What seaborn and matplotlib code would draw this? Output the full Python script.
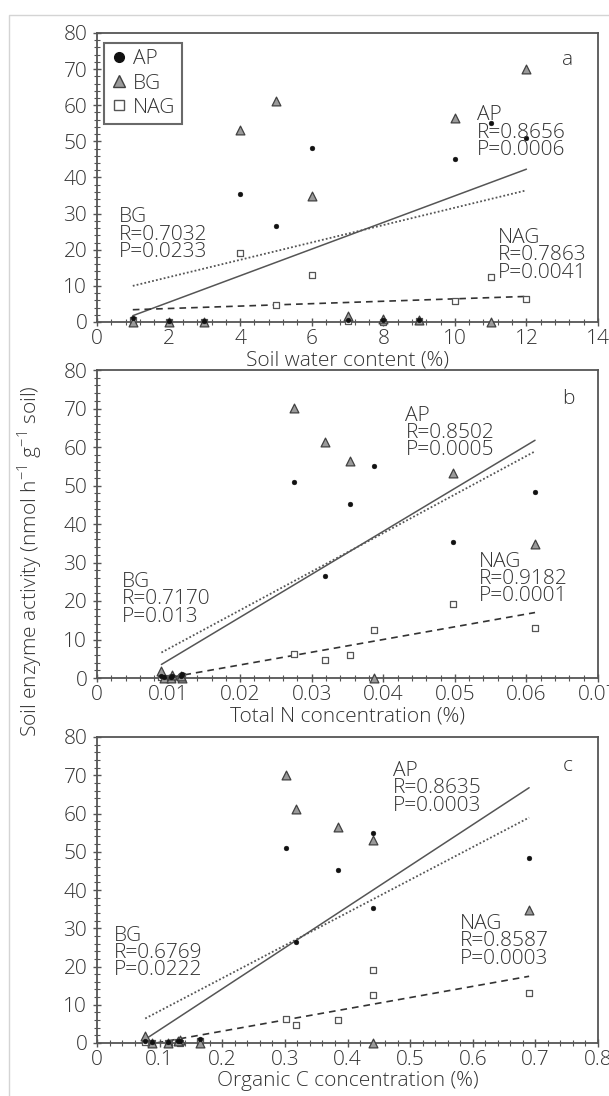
import numpy as np
import pandas as pd
import matplotlib
matplotlib.use("Agg")
import matplotlib.pyplot as plt
import seaborn as sns
from matplotlib.ticker import MultipleLocator, AutoMinorLocator, FuncFormatter
from matplotlib.lines import Line2D
from matplotlib.patches import Rectangle

# ---- data (12 soil samples) ----
ap = [1.0, 0.3, 0.3, 35.4, 26.5, 48.3, 0.5, 0.5, 0.5, 45.1, 55.0, 50.9]
bg = [0.0, 0.0, 0.0, 53.2, 61.2, 34.9, 1.7, 0.7, 0.5, 56.4, 0.0, 70.1]
nag = [0.5, 0.1, 0.1, 19.1, 4.6, 13.1, 0.3, 0.1, 0.3, 5.9, 12.5, 6.3]

swc = [1, 2, 3, 4, 5, 6, 7, 8, 9, 10, 11, 12]
total_n = [0.0119, 0.0093, 0.0103, 0.0498, 0.0318, 0.0612, 0.0090, 0.0105, 0.0118, 0.0353, 0.0387, 0.0275]
org_c = [0.165, 0.088, 0.114, 0.440, 0.317, 0.690, 0.077, 0.132, 0.130, 0.385, 0.440, 0.301]

panel_letters = ["a", "b", "c"]
xlabels = ["Soil water content (%)", "Total N concentration (%)", "Organic C concentration (%)"]
xlims = [(0, 14), (0, 0.07), (0, 0.8)]
xmajor = [2, 0.01, 0.1]
stats = [
    {"AP": ("0.8656", "0.0006"), "BG": ("0.7032", "0.0233"), "NAG": ("0.7863", "0.0041")},
    {"AP": ("0.8502", "0.0005"), "BG": ("0.7170", "0.013"), "NAG": ("0.9182", "0.0001")},
    {"AP": ("0.8635", "0.0003"), "BG": ("0.6769", "0.0222"), "NAG": ("0.8587", "0.0003")},
]
# text anchor positions (data coords, top-left)
text_pos = [
    {"AP": (10.62, 60.0), "BG": (0.6, 31.7), "NAG": (11.2, 26.0)},
    {"AP": (0.0431, 70.7), "BG": (0.0035, 27.5), "NAG": (0.0534, 32.8)},
    {"AP": (0.473, 73.7), "BG": (0.027, 30.7), "NAG": (0.58, 33.7)},
]

sns.set_theme(style="white")
plt.rcParams["font.family"] = ["Open Sans", "DejaVu Sans"]
plt.rcParams["font.weight"] = "light"
plt.rcParams["axes.labelweight"] = "light"
plt.rcParams["mathtext.fontset"] = "custom"
plt.rcParams["mathtext.rm"] = "Open Sans:light"

FS = 15
TXT = "#333333"
SP = "#555555"

fig = plt.figure(figsize=(6.09, 10.96), dpi=100)
W, H = 609, 1096
boxes = [(33, 322), (370, 678), (737, 1043)]
axes = []
for top, bot in boxes:
    axes.append(fig.add_axes([97 / W, 1 - bot / H, 501 / W, (bot - top) / H]))

# light outer frame
fig.patches.append(Rectangle((9 / W, -0.01), 1.2, 1 - 15 / H + 0.01, transform=fig.transFigure,
                             fill=False, edgecolor="#d4d4d4", linewidth=1.0))

xs_all = [swc, total_n, org_c]
for i, ax in enumerate(axes):
    xs = xs_all[i]
    df = pd.DataFrame({"x": xs, "AP": ap, "BG": bg, "NAG": nag})
    # regression lines
    sns.regplot(data=df, x="x", y="AP", ax=ax, scatter=False, ci=None, truncate=True,
                line_kws=dict(color="#555555", lw=1.1, ls="-"))
    sns.regplot(data=df, x="x", y="BG", ax=ax, scatter=False, ci=None, truncate=True,
                line_kws=dict(color="#555555", lw=1.3, ls=(0, (1, 1.2))))
    sns.regplot(data=df, x="x", y="NAG", ax=ax, scatter=False, ci=None, truncate=True,
                line_kws=dict(color="#333333", lw=1.2, ls=(0, (4, 3))))
    # points
    sns.scatterplot(data=df, x="x", y="NAG", ax=ax, marker="s", s=18, facecolor="white",
                    edgecolor="#555555", linewidth=0.9, zorder=3, clip_on=False)
    sns.scatterplot(data=df, x="x", y="BG", ax=ax, marker="^", s=40, color="#9a9a9a",
                    edgecolor="#404040", linewidth=0.9, zorder=4, clip_on=False)
    sns.scatterplot(data=df, x="x", y="AP", ax=ax, marker="o", s=12, color="#111111",
                    edgecolor="#111111", linewidth=0.3, zorder=5, clip_on=False)

    ax.set_xlim(*xlims[i])
    ax.set_ylim(0, 80)
    ax.xaxis.set_major_locator(MultipleLocator(xmajor[i]))
    ax.xaxis.set_minor_locator(AutoMinorLocator(5))
    ax.yaxis.set_major_locator(MultipleLocator(10))
    ax.yaxis.set_minor_locator(AutoMinorLocator(5))
    ax.xaxis.set_major_formatter(FuncFormatter(lambda v, p: "%g" % round(v, 4)))
    ax.tick_params(which="major", direction="inout", length=6, width=1, color=SP,
                   labelsize=FS, labelcolor=TXT, pad=2)
    ax.tick_params(which="minor", direction="inout", length=4, width=0.8, color=SP)
    ax.tick_params(axis="x", which="both", top=False, bottom=True)
    ax.tick_params(axis="y", which="both", right=False, left=True)
    ax.tick_params(axis="y", which="major", pad=4)
    for s in ax.spines.values():
        s.set_color(SP)
        s.set_linewidth(1.3)
    ax.set_xlabel(xlabels[i], fontsize=FS, color=TXT, labelpad=1)
    ax.set_ylabel("")
    ax.text(0.94, 0.905, panel_letters[i], transform=ax.transAxes, fontsize=FS, color=TXT,
            ha="center", va="center")
    for name in ["AP", "BG", "NAG"]:
        r, p = stats[i][name]
        tx, ty = text_pos[i][name]
        ax.text(tx, ty, f"{name}\nR={r}\nP={p}", fontsize=FS, color=TXT, ha="left", va="top",
                linespacing=0.82, zorder=6)

# legend on panel a
handles = [
    Line2D([], [], ls="none", marker="o", ms=7, mfc="#111111", mec="#111111"),
    Line2D([], [], ls="none", marker="^", ms=8, mfc="#9a9a9a", mec="#404040", mew=1),
    Line2D([], [], ls="none", marker="s", ms=7, mfc="white", mec="#555555", mew=1),
]
leg = axes[0].legend(handles, ["AP", "BG", "NAG"], loc="upper left", bbox_to_anchor=(0.014, 0.965),
                     fontsize=FS, frameon=True, fancybox=False, handlelength=0.8, handletextpad=0.3,
                     borderpad=0.3, labelspacing=0.2, borderaxespad=0)
leg.get_frame().set_edgecolor("#444444")
leg.get_frame().set_linewidth(1.5)
leg.set_zorder(10)
for t in leg.get_texts():
    t.set_color(TXT)

fig.text(30 / W, 1 - 561 / H, r"Soil enzyme activity (nmol h$^{\mathregular{-1}}$ g$^{\mathregular{-1}}$ soil)",
         rotation=90, ha="center", va="center", fontsize=FS, color=TXT)

fig.savefig("out.png", dpi=100)
